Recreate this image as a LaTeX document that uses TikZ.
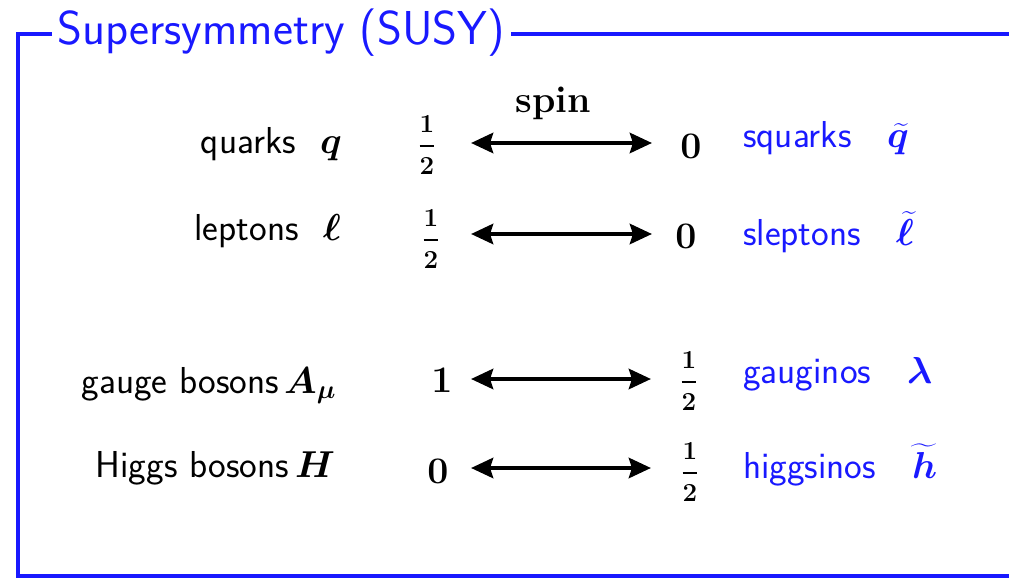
\RequirePackage{fix-cm}
\documentclass[tikz,border=0pt]{standalone}
\usepackage{amsmath}
\usepackage{bm}
\usetikzlibrary{arrows.meta}
\definecolor{susyblue}{RGB}{25,25,255}
\newcommand{\fracdigit}[1]{\mbox{\rmfamily\bfseries\fontsize{26}{26}\selectfont #1}}
\newcommand{\halfspin}{\ensuremath{\genfrac{}{}{2.8pt}{1}{\fracdigit{1}\rule[-9.5pt]{0pt}{9.5pt}}{\rule{0pt}{23.8pt}\fracdigit{2}}}}
\tikzset{
  frameline/.style={draw=susyblue, line width=4pt},
  txt/.style={inner sep=0pt, font=\sffamily\fontsize{37.5}{45}\selectfont, anchor=base east},
  txtb/.style={inner sep=0pt, font=\sffamily\fontsize{37.5}{45}\selectfont, anchor=base west, text=susyblue},
  sym/.style={inner sep=0pt, font=\fontsize{37.5}{45}\selectfont\boldmath, anchor=base west},
  spinval/.style={inner sep=0pt, font=\fontsize{37.5}{45}\selectfont\boldmath, anchor=base},
  dblarrow/.style={line width=4.5pt, {Stealth[length=22pt,width=20pt,inset=3pt]}-{Stealth[length=22pt,width=20pt,inset=3pt]}}
}
\begin{document}
\begin{tikzpicture}[x=1pt,y=-1pt]
\useasboundingbox (0,0) rectangle (1009,578);
% frame
\node[inner sep=0pt, anchor=base west, text=susyblue, font=\sffamily\fontsize{47.6}{56}\selectfont] (title) at (57,45) {Supersymmetry (SUSY)};
\coordinate (tl) at (18,34.5);
\coordinate (bl) at (18,576);
\coordinate (br) at (1009,576);
\coordinate (tr) at (1009,34.5);
\draw[frameline] (title.west |- tl) ++(-5,0) -- (tl) -- (bl) -- (br);
\draw[frameline] (title.east |- tr) ++(6,0) -- (tr);
% header
\node[inner sep=0pt, anchor=base, font=\rmfamily\bfseries\fontsize{37.5}{45}\selectfont] (spin) at (553,112) {spin};
% left labels
\node[txt] (quarks) at (296,153) {quarks};
\node[sym] (q) at (320,153) {$\bm{q}$};
\node[txt] (leptons) at (299,240) {leptons};
\node[sym] (l) at (323,240) {$\bm{\ell}$};
\node[txt] (gauge) at (279,393) {gauge bosons};
\node[sym] (A) at (284,393) {$\bm{A_\mu}$};
\node[txt] (higgs) at (289,477) {Higgs bosons};
\node[sym] (H) at (295,477) {$\bm{H}$};
% spin values
\node[spinval] (s1l) at (427,155.4) {\halfspin};
\node[spinval] (s1r) at (691,158) {$0$};
\node[spinval] (s2l) at (431,249.4) {\halfspin};
\node[spinval] (s2r) at (686,248) {$0$};
\node[spinval] (s3l) at (442,392) {$1$};
\node[spinval] (s3r) at (689,391.4) {\halfspin};
\node[spinval] (s4l) at (438,483) {$0$};
\node[spinval] (s4r) at (690,482.4) {\halfspin};
% arrows
\coordinate (a1l) at (471,143); \coordinate (a1r) at (652,143);
\coordinate (a2l) at (471,234); \coordinate (a2r) at (652,234);
\coordinate (a3l) at (471,379); \coordinate (a3r) at (651,379);
\coordinate (a4l) at (471,468); \coordinate (a4r) at (651,468);
\draw[dblarrow] (a1l) -- (a1r);
\draw[dblarrow] (a2l) -- (a2r);
\draw[dblarrow] (a3l) -- (a3r);
\draw[dblarrow] (a4l) -- (a4r);
% right labels
\node[txtb] (squarks) at (743,147) {squarks};
\node[sym, text=susyblue] (sq) at (887,147) {$\widetilde{\bm{q}}$};
\node[txtb] (sleptons) at (743,245) {sleptons};
\node[sym, text=susyblue] (sl) at (896,245) {$\widetilde{\bm{\ell}}$};
\node[txtb] (gauginos) at (743,383) {gauginos};
\node[sym, text=susyblue] (lam) at (907,383) {$\bm{\lambda}$};
\node[txtb] (higgsinos) at (743,478) {higgsinos};
\node[sym, text=susyblue] (sh) at (912,478) {$\widetilde{\bm{h}}$};
\end{tikzpicture}
\end{document}
